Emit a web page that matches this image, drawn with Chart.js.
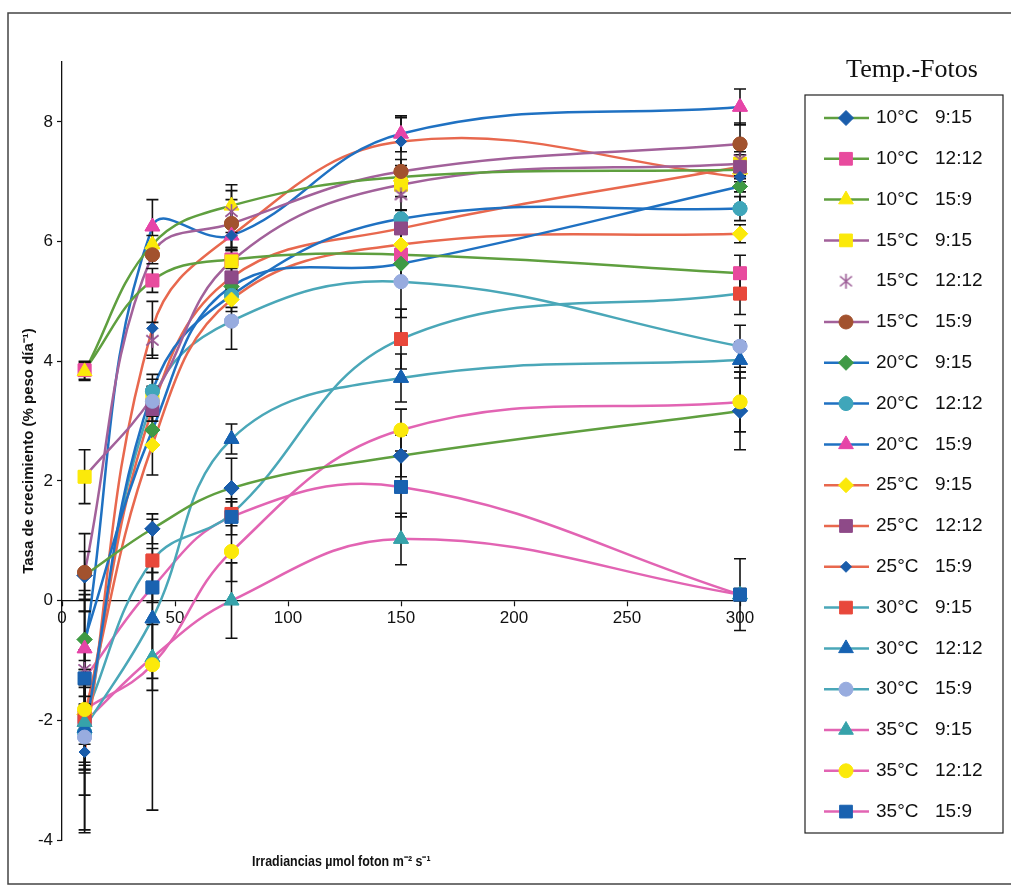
<!DOCTYPE html>
<html>
<head>
<meta charset="utf-8">
<script src="https://cdn.jsdelivr.net/npm/chart.js@4.4.1/dist/chart.umd.min.js"></script>
<style>
  html, body { margin: 0; padding: 0; background: #fff; }
</style>
</head>
<body>
<canvas id="chart1" width="1011" height="887"></canvas>
<script>
'use strict';

// irradiance levels (x) and one series per temperature / photoperiod
var irradiance = [10, 40, 75, 150, 300];
var seriesLabels = [
  '10°C  9:15', '10°C  12:12', '10°C  15:9',
  '15°C  9:15', '15°C  12:12', '15°C  15:9',
  '20°C  9:15', '20°C  12:12', '20°C  15:9',
  '25°C  9:15', '25°C  12:12', '25°C  15:9',
  '30°C  9:15', '30°C  12:12', '30°C  15:9',
  '35°C  9:15', '35°C  12:12', '35°C  15:9',
];
var yTicks = [-4, -2, 0, 2, 4, 6, 8];
var xTicks = [0, 50, 100, 150, 200, 250, 300];

var t10_915 = [0.42, 1.2, 1.88, 2.42, 3.17];
var t10_1212 = [3.85, 5.35, 5.7, 5.78, 5.47];
var t10_159 = [3.83, 5.95, 6.6, 7.08, 7.2];
var t15_915 = [2.07, 3.4, 5.67, 6.95, 7.3];
var t15_1212 = [-1.15, 4.35, 6.5, 6.78, 7.37];
var t15_159 = [0.47, 5.78, 6.3, 7.17, 7.63];
var t20_915 = [-0.65, 2.85, 5.25, 5.63, 6.92];
var t20_1212 = [-2.2, 3.5, 5.1, 6.38, 6.55];
var t20_159 = [-0.8, 6.25, 6.1, 7.8, 8.25];
var t25_915 = [-1.9, 2.6, 5.03, 5.95, 6.13];
var t25_1212 = [-2.0, 3.2, 5.4, 6.22, 7.25];
var t25_159 = [-2.53, 4.55, 6.1, 7.67, 7.08];
var t30_915 = [-1.95, 0.67, 1.45, 4.37, 5.13];
var t30_1212 = [-2.13, -0.3, 2.7, 3.72, 4.02];
var t30_159 = [-2.28, 3.33, 4.67, 5.33, 4.25];
var t35_915 = [-2.03, -0.95, 0.0, 1.03, 0.1];
var t35_1212 = [-1.82, -1.07, 0.82, 2.85, 3.32];
var t35_159 = [-1.3, 0.22, 1.4, 1.9, 0.1];

// error bar half-lengths, same order
var e10_915 = [0.4, 0.25, 0.5, 0.35, 0.65];
var e10_1212 = [0.15, 0.2, 0.15, 0.15, 0.3];
var e10_159 = [0.15, 0.15, 0.35, 0.15, 0.2];
var e15_915 = [0.45, 0.3, 0.2, 0.2, 0.2];
var e15_1212 = [0.3, 0.3, 0.35, 0.25, 0.2];
var e15_159 = [0.65, 0.15, 0.4, 0.2, 0.35];
var e20_915 = [0.75, 0.25, 0.2, 0.3, 0.3];
var e20_1212 = [1.05, 0.28, 0.2, 0.15, 0.2];
var e20_159 = [0.97, 0.45, 0.2, 0.3, 0.3];
var e25_915 = [0.5, 0.5, 0.2, 0.2, 0.15];
var e25_1212 = [0.7, 0.2, 0.2, 0.3, 0.2];
var e25_159 = [1.3, 0.45, 0.25, 0.4, 0.25];
var e30_915 = [0.8, 0.2, 0.2, 0.5, 0.35];
var e30_1212 = [0.75, 1.0, 0.25, 0.4, 0.3];
var e30_159 = [0.55, 0.25, 0.47, 0.6, 0.35];
var e35_915 = [1.85, 0.55, 0.63, 0.43, 0.1];
var e35_1212 = [1.0, 2.43, 0.5, 0.35, 0.5];
var e35_159 = [0.3, 0.25, 0.3, 0.5, 0.6];

var seriesValues = [
  t10_915, t10_1212, t10_159, t15_915, t15_1212, t15_159,
  t20_915, t20_1212, t20_159, t25_915, t25_1212, t25_159,
  t30_915, t30_1212, t30_159, t35_915, t35_1212, t35_159,
];
var seriesErrors = [
  e10_915, e10_1212, e10_159, e15_915, e15_1212, e15_159,
  e20_915, e20_1212, e20_159, e25_915, e25_1212, e25_159,
  e30_915, e30_1212, e30_159, e35_915, e35_1212, e35_159,
];

var GREEN = '#5f9f3f';
var PURPLE = '#a2619a';
var BLUE = '#1f71c2';
var ORANGE = '#e8684e';
var TEAL = '#4aa7b8';
var PINK = '#e264b3';

// Excel-like asterisk marker: an x with a vertical stroke
var asterisk = document.createElement('canvas');
asterisk.width = 17;
asterisk.height = 17;
(function () {
  var c = asterisk.getContext('2d');
  c.strokeStyle = '#9b5a95';
  c.lineWidth = 1.6;
  c.beginPath();
  c.moveTo(2.5, 3.5); c.lineTo(14.5, 13.5);
  c.moveTo(14.5, 3.5); c.lineTo(2.5, 13.5);
  c.moveTo(8.5, 1); c.lineTo(8.5, 16);
  c.stroke();
})();

var styles = [
  { line: GREEN, shape: 'rectRot', fill: '#1a5dab', r: 7.5 },
  { line: GREEN, shape: 'rect', fill: '#e84b9e', r: 9 },
  { line: GREEN, shape: 'triangle', fill: '#fbe90a', r: 8.5 },
  { line: PURPLE, shape: 'rect', fill: '#fbe90a', r: 9 },
  { line: null, shape: asterisk, fill: '#9b5a95', r: 8 },
  { line: PURPLE, shape: 'circle', fill: '#a2522e', r: 7 },
  { line: BLUE, shape: 'rectRot', fill: '#3f9a45', r: 7.5 },
  { line: BLUE, shape: 'circle', fill: '#3fa6ba', r: 7 },
  { line: BLUE, shape: 'triangle', fill: '#e645a8', r: 8.5 },
  { line: ORANGE, shape: 'rectRot', fill: '#fbe90a', r: 7.5 },
  { line: ORANGE, shape: 'rect', fill: '#8e4a88', r: 9 },
  { line: ORANGE, shape: 'rectRot', fill: '#1a5dab', r: 5.5 },
  { line: TEAL, shape: 'rect', fill: '#e8483b', r: 9 },
  { line: TEAL, shape: 'triangle', fill: '#1662b2', r: 8.5 },
  { line: TEAL, shape: 'circle', fill: '#98acdf', r: 7 },
  { line: PINK, shape: 'triangle', fill: '#36a2aa', r: 8.5 },
  { line: PINK, shape: 'circle', fill: '#fbe90a', r: 7 },
  { line: PINK, shape: 'rect', fill: '#1a62b0', r: 9 },
];

var datasets = seriesLabels.map(function (label, i) {
  var s = styles[i];
  return {
    label: label,
    data: irradiance.map(function (x, j) {
      return { x: x, y: seriesValues[i][j] };
    }),
    errors: seriesErrors[i],
    showLine: s.line !== null,
    borderColor: s.line || s.fill,
    borderWidth: 2.5,
    tension: 0.4,
    pointStyle: s.shape,
    pointRadius: s.r,
    pointHoverRadius: s.r,
    pointBackgroundColor: s.fill,
    pointBorderColor: s.fill,
    pointBorderWidth: 1,
    clip: false,
  };
});

// vertical error bars, then the markers again so they sit on top
var errorBars = {
  id: 'errorBars',
  afterDatasetsDraw: function (chart) {
    var ctx = chart.ctx;
    var ys = chart.scales.y;
    ctx.save();
    ctx.strokeStyle = '#111';
    ctx.lineWidth = 1.6;
    chart.data.datasets.forEach(function (ds, i) {
      chart.getDatasetMeta(i).data.forEach(function (pt, j) {
        var v = ds.data[j].y;
        var e = ds.errors[j];
        var top = ys.getPixelForValue(v + e);
        var bot = ys.getPixelForValue(v - e);
        ctx.beginPath();
        ctx.moveTo(pt.x, top);
        ctx.lineTo(pt.x, bot);
        ctx.moveTo(pt.x - 6, top);
        ctx.lineTo(pt.x + 6, top);
        ctx.moveTo(pt.x - 6, bot);
        ctx.lineTo(pt.x + 6, bot);
        ctx.stroke();
      });
    });
    ctx.restore();
    chart.data.datasets.forEach(function (ds, i) {
      chart.getDatasetMeta(i).data.forEach(function (pt) {
        pt.draw(ctx, chart.chartArea);
      });
    });
  },
};

// legend box with line + marker samples, x axis title and outer frame
var extras = {
  id: 'extras',
  afterDraw: function (chart) {
    var ctx = chart.ctx;
    ctx.save();

    ctx.strokeStyle = '#444';
    ctx.lineWidth = 1.5;
    ctx.beginPath();
    ctx.moveTo(1011, 13);
    ctx.lineTo(8, 13);
    ctx.lineTo(8, 884);
    ctx.lineTo(1011, 884);
    ctx.stroke();

    // narrow-looking axis title
    ctx.fillStyle = '#111';
    ctx.textBaseline = 'middle';
    ctx.textAlign = 'left';
    ctx.font = 'bold 15px "Liberation Sans", Arial, sans-serif';
    ctx.save();
    ctx.translate(252, 862);
    ctx.scale(0.83, 1);
    ctx.fillText('Irradiancias µmol foton m⁻² s⁻¹', 0, 0);
    ctx.restore();

    ctx.textAlign = 'center';
    ctx.font = '26px "Liberation Serif", "Times New Roman", serif';
    ctx.fillText('Temp.-Fotos', 912, 70);

    ctx.strokeStyle = '#222';
    ctx.lineWidth = 1.2;
    ctx.strokeRect(805, 95, 198, 738);

    ctx.textAlign = 'left';
    ctx.font = '19px "Liberation Sans", Arial, sans-serif';
    chart.data.datasets.forEach(function (ds, i) {
      var y = 118 + i * 40.8;
      if (ds.showLine) {
        ctx.strokeStyle = ds.borderColor;
        ctx.lineWidth = 2.5;
        ctx.beginPath();
        ctx.moveTo(824, y);
        ctx.lineTo(869, y);
        ctx.stroke();
      }
      ctx.fillStyle = ds.pointBackgroundColor;
      ctx.strokeStyle = ds.pointBorderColor;
      ctx.lineWidth = ds.pointBorderWidth;
      Chart.helpers.drawPoint(ctx, {
        pointStyle: ds.pointStyle,
        radius: ds.pointRadius,
        rotation: 0,
        borderWidth: ds.pointBorderWidth,
      }, 846, y);
      var parts = ds.label.split(/\s+/);
      ctx.fillStyle = '#111';
      ctx.fillText(parts[0], 876, y);
      ctx.fillText(parts[1], 935, y);
    });

    ctx.restore();
  },
};

var ctx = document.getElementById('chart1').getContext('2d');
/* eslint-disable-next-line no-unused-vars */
var myChart = new Chart(ctx, {
  type: 'line',
  plugins: [errorBars, extras],
  data: { datasets: datasets },
  options: {
    responsive: false,
    animation: false,
    layout: {
      padding: { left: 10, top: 62, right: 271, bottom: 47 },
    },
    plugins: {
      legend: { display: false },
      tooltip: { enabled: false },
    },
    scales: {
      x: {
        type: 'linear',
        position: { y: 0 },
        min: 0,
        max: 300,
        afterBuildTicks: function (scale) {
          scale.ticks = xTicks.map(function (v) { return { value: v }; });
        },
        grid: {
          drawOnChartArea: false,
          color: '#111',
          tickLength: 5,
          tickWidth: 1.2,
        },
        border: { color: '#111', width: 1.3 },
        ticks: {
          color: '#111',
          font: { family: '"Liberation Sans", Arial, sans-serif', size: 17 },
          padding: 2,
          maxRotation: 0,
        },
      },
      y: {
        type: 'linear',
        min: -4,
        max: 9,
        afterBuildTicks: function (scale) {
          scale.ticks = yTicks.map(function (v) { return { value: v }; });
        },
        afterFit: function (scale) {
          scale.width = 52;
        },
        grid: {
          drawOnChartArea: false,
          color: '#111',
          tickLength: 5,
          tickWidth: 1.2,
        },
        border: { color: '#111', width: 1.3 },
        ticks: {
          color: '#111',
          font: { family: '"Liberation Sans", Arial, sans-serif', size: 17 },
          padding: 4,
        },
        title: {
          display: true,
          text: 'Tasa de crecimiento (% peso día⁻¹)',
          color: '#111',
          font: { family: '"Liberation Sans", Arial, sans-serif', size: 15, weight: 'bold' },
          padding: { top: 10, bottom: 0 },
        },
      },
    },
  },
});
</script>
</body>
</html>
